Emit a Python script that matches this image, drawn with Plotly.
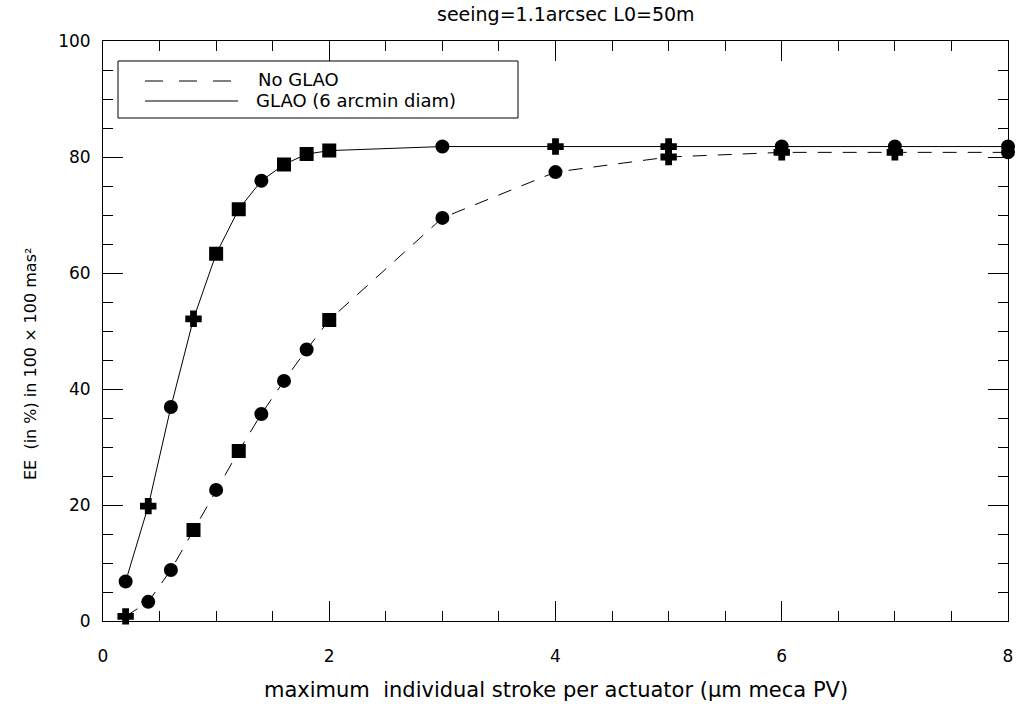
import plotly.graph_objects as go

# Stroke values (µm meca PV) and encircled energy (%) for each configuration
stroke = [0.2, 0.4, 0.6, 0.8, 1.0, 1.2, 1.4, 1.6, 1.8, 2.0, 3.0, 4.0, 5.0, 6.0, 7.0, 8.0]
ee_no_glao = [0.8, 3.3, 8.8, 15.7, 22.6, 29.3, 35.7, 41.4, 46.8, 51.9, 69.5, 77.4, 80.0, 80.8, 80.8, 80.8]
ee_glao = [6.8, 19.8, 36.9, 52.1, 63.3, 71.0, 75.9, 78.7, 80.5, 81.1, 81.8, 81.8, 81.8, 81.8, 81.8, 81.8]

x_ticks = [0, 2, 4, 6, 8]
y_ticks = [0, 20, 40, 60, 80, 100]

title_text = "seeing=1.1arcsec L0=50m"
x_title = "maximum  individual stroke per actuator (μm meca PV)"
y_title = "EE  (in %) in 100 × 100 mas²"
legend_labels = ["No GLAO", "GLAO (6 arcmin diam)"]

# Marker shapes per point (style only)
sym_no = ["cross", "circle", "circle", "square", "circle", "square", "circle", "circle",
          "circle", "square", "circle", "circle", "cross", "cross", "cross", "circle"]
sym_gl = ["circle", "cross", "circle", "cross", "square", "square", "circle", "square",
          "square", "square", "circle", "cross", "cross", "circle", "circle", "circle"]

FONT = "DejaVu Sans"

fig = go.Figure()
fig.add_trace(go.Scatter(
    x=stroke, y=ee_no_glao, mode="lines+markers", name=legend_labels[0],
    line=dict(color="black", width=1, dash="14px,11px"),
    marker=dict(color="black", size=12, symbol=sym_no, line=dict(width=2, color="black")),
    showlegend=False, cliponaxis=False,
))
fig.add_trace(go.Scatter(
    x=stroke, y=ee_glao, mode="lines+markers", name=legend_labels[1],
    line=dict(color="black", width=1),
    marker=dict(color="black", size=12, symbol=sym_gl, line=dict(width=2, color="black")),
    showlegend=False, cliponaxis=False,
))

axis_common = dict(
    showgrid=False, zeroline=False, showline=True, linecolor="black", linewidth=1,
    mirror="ticks", ticks="inside", ticklen=20, tickwidth=1, tickcolor="black",
    tickfont=dict(family=FONT, size=17, color="black"),
)
fig.update_xaxes(range=[0, 8], tickvals=x_ticks, ticktext=[str(v) for v in x_ticks],
                 ticklabelstandoff=20,
                 minor=dict(ticks="inside", ticklen=10, dtick=0.5, tickcolor="black", showgrid=False),
                 **axis_common)
fig.update_yaxes(range=[0, 100], tickvals=y_ticks, ticktext=[str(v) for v in y_ticks],
                 ticklabelstandoff=8,
                 minor=dict(ticks="inside", ticklen=10, dtick=5, tickcolor="black", showgrid=False),
                 **axis_common)

W, H = 1025, 704
L, R, T, B = 103, 17, 41, 83
pw, ph = W - L - R, H - T - B


def px(xp):
    return (xp - L) / pw


def py(yp):
    return (H - B - yp) / ph


shapes = [
    # legend frame
    dict(type="rect", xref="paper", yref="paper", x0=px(118), x1=px(518), y0=py(118), y1=py(61),
         line=dict(color="black", width=1), fillcolor="white", layer="above"),
    dict(type="line", xref="paper", yref="paper", x0=px(145), x1=px(232), y0=py(81), y1=py(81),
         line=dict(color="black", width=1, dash="18px,16px"), layer="above"),
    dict(type="line", xref="paper", yref="paper", x0=px(145), x1=px(238), y0=py(101), y1=py(101),
         line=dict(color="black", width=1), layer="above"),
]

annotations = [
    dict(text=legend_labels[0], xref="paper", yref="paper", x=px(256), y=py(80),
         xanchor="left", yanchor="middle", showarrow=False,
         font=dict(family=FONT, size=18, color="black")),
    dict(text=legend_labels[1], xref="paper", yref="paper", x=px(254), y=py(100),
         xanchor="left", yanchor="middle", showarrow=False,
         font=dict(family=FONT, size=18, color="black")),
    dict(text=title_text, xref="paper", yref="paper", x=px(566), y=py(14),
         xanchor="center", yanchor="middle", showarrow=False,
         font=dict(family=FONT, size=19, color="black")),
    dict(text=x_title, xref="paper", yref="paper", x=px(556), y=py(690),
         xanchor="center", yanchor="middle", showarrow=False,
         font=dict(family=FONT, size=21, color="black")),
    dict(text=y_title, xref="paper", yref="paper", x=px(30), y=py(364),
         xanchor="center", yanchor="middle", showarrow=False, textangle=-90,
         font=dict(family=FONT, size=16, color="black")),
]

fig.update_layout(
    width=W, height=H,
    margin=dict(l=L, r=R, t=T, b=B, autoexpand=False),
    paper_bgcolor="white", plot_bgcolor="white",
    shapes=shapes, annotations=annotations,
    showlegend=False,
)

fig.write_html("out.html")
